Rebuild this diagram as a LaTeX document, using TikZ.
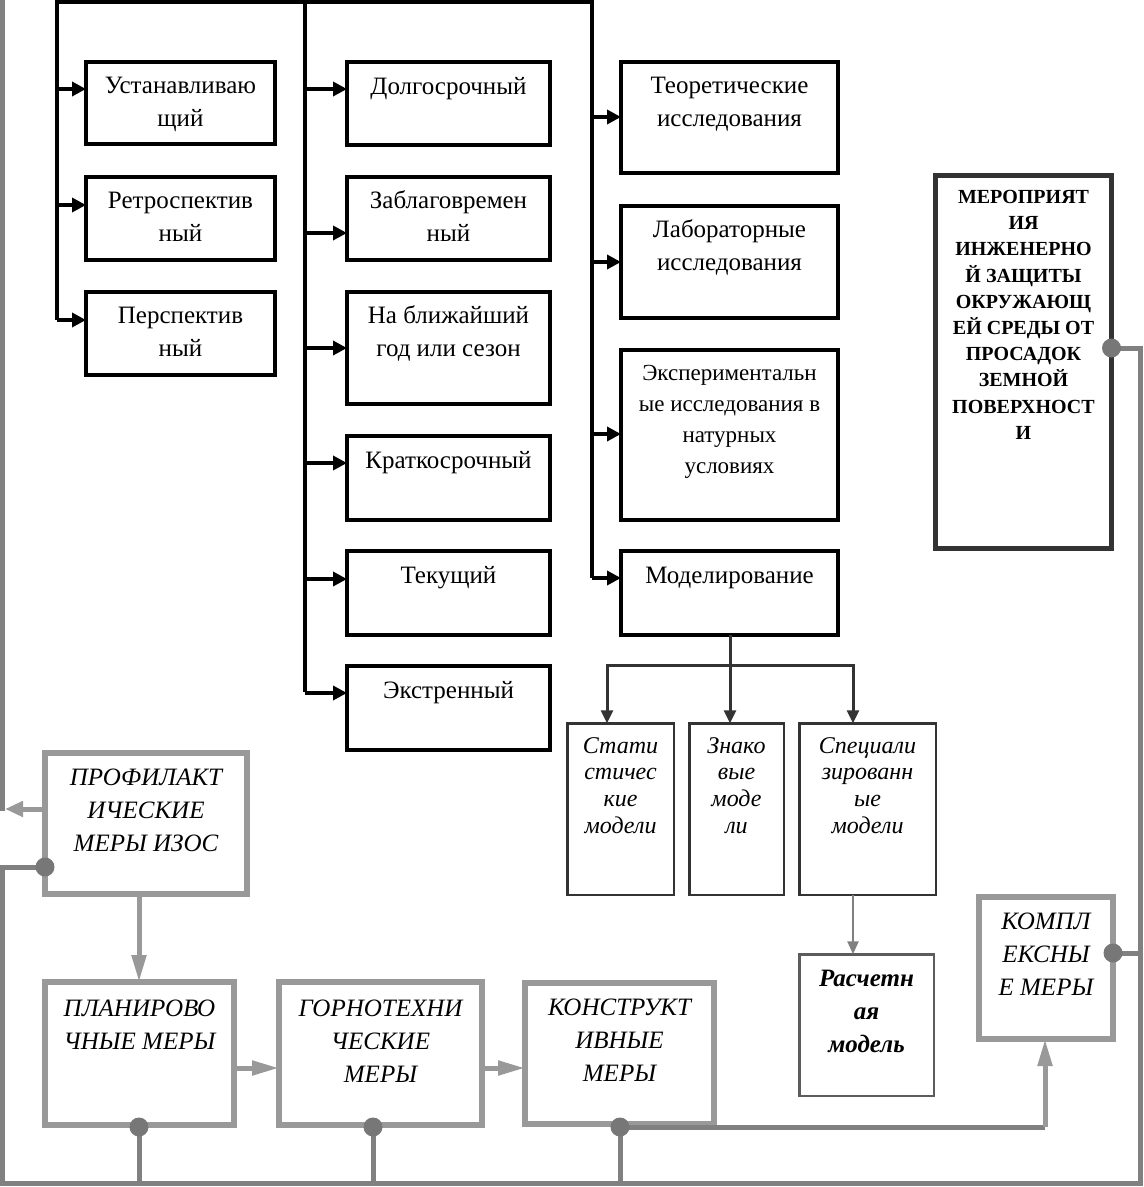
\documentclass[tikz,border=0pt]{standalone}
\usepackage{fontspec}
\setmainfont{Liberation Serif}
\usetikzlibrary{arrows.meta}
\definecolor{gbox}{HTML}{999999}
\definecolor{gline}{HTML}{808080}
\definecolor{gdot}{HTML}{777777}
\definecolor{dk}{HTML}{333333}
\newcommand{\bx}[4]{\parbox[c][#2pt][t]{#1pt}{\centering\rule{0pt}{#3pt}#4\par}}
\tikzset{
  bbox/.style={draw=black, line width=4pt, inner sep=0pt, outer sep=0pt, font=\fontsize{25}{33}\selectfont},
  sbox/.style={draw=black, line width=4pt, inner sep=0pt, outer sep=0pt, font=\fontsize{23}{31}\selectfont},
  mbox/.style={draw=dk, line width=5pt, inner sep=0pt, outer sep=0pt, font=\fontsize{20}{26.2}\selectfont\bfseries},
  modbox/.style={draw=dk, line width=2.5pt, inner sep=0pt, outer sep=0pt, font=\fontsize{24}{26.7}\selectfont\itshape},
  calcbox/.style={draw=dk!80, line width=2.5pt, inner sep=0pt, outer sep=0pt, font=\fontsize{25}{33}\selectfont\bfseries\itshape},
  gbx/.style={draw=gbox, line width=6pt, inner sep=0pt, outer sep=0pt, font=\fontsize{25}{33}\selectfont\itshape},
  bline/.style={draw=black, line width=4pt},
  barrow/.style={draw=black, line width=4pt, -{Triangle[length=14pt,width=14pt]}},
  mline/.style={draw=dk, line width=3pt},
  marrow/.style={draw=dk, line width=3pt, -{Triangle[length=13pt,width=12pt]}},
  tarrow/.style={draw=gline, line width=2.5pt, -{Triangle[length=13pt,width=11pt]}},
  gl/.style={draw=gline, line width=5pt},
  garrow/.style={draw=gbox, line width=5pt, -{Triangle[length=27pt,width=14pt]}},
  garrowshort/.style={draw=gbox, line width=5pt, -{Triangle[length=18pt,width=15pt]}},
  gdotst/.style={circle, fill=gdot, inner sep=0pt, minimum size=19pt}
}
\begin{document}
\begin{tikzpicture}[x=1pt,y=-1pt]
\useasboundingbox (0,0) rectangle (1144,1187);

% ---------- black boxes ----------
\node[bbox] (u1) at (180.5,103)   {\bx{189}{82}{31}{Устанавливаю\\щий}};
\node[bbox] (u2) at (180.5,218.5) {\bx{189}{83}{31}{Ретроспектив\\ный}};
\node[bbox] (u3) at (180.5,333.5) {\bx{189}{83}{31}{Перспектив\\ный}};

\node[bbox] (m1) at (448.5,103.5) {\bx{203}{83}{32}{Долгосрочный}};
\node[bbox] (m2) at (448.5,218.5) {\bx{203}{83}{31}{Заблаговремен\\ный}};
\node[bbox] (m3) at (448.5,348)   {\bx{203}{112}{31}{На ближайший\\год или сезон}};
\node[bbox] (m4) at (448.5,478)   {\bx{203}{84}{32}{Краткосрочный}};
\node[bbox] (m5) at (448.5,593)   {\bx{203}{84}{32}{Текущий}};
\node[bbox] (m6) at (448.5,708)   {\bx{203}{84}{32}{Экстренный}};

\node[bbox] (r1) at (729.5,117.5) {\bx{217}{111}{31}{Теоретические\\исследования}};
\node[bbox] (r2) at (729.5,262)   {\bx{217}{112}{31}{Лабораторные\\исследования}};
\node[sbox] (r3) at (729.5,435)   {\bx{217}{170}{30}{Экспериментальн\\ые исследования в\\натурных\\условиях}};
\node[bbox] (r4) at (729.5,593)   {\bx{217}{84}{32}{Моделирование}};

\node[mbox] (mer) at (1023.5,362) {\bx{176}{373}{28}{МЕРОПРИЯТ\\ИЯ\\ИНЖЕНЕРНО\\Й ЗАЩИТЫ\\ОКРУЖАЮЩ\\ЕЙ СРЕДЫ ОТ\\ПРОСАДОК\\ЗЕМНОЙ\\ПОВЕРХНОСТ\\И}};

% ---------- model boxes ----------
\node[modbox] (s1) at (620.5,809) {\bx{106.5}{171.5}{30}{Стати\\стичес\\кие\\модели}};
\node[modbox] (s2) at (736.5,809) {\bx{94.5}{171.5}{30}{Знако\\вые\\моде\\ли}};
\node[modbox] (s3) at (867.5,809) {\bx{136.5}{171.5}{30}{Специали\\зированн\\ые\\модели}};
\node[calcbox] (calc) at (866.5,1025) {\bx{134.5}{141.5}{32}{Расчетн\\ая\\модель}};

% ---------- gray boxes ----------
\node[gbx] (p0) at (146,823.5)   {\bx{202}{141}{32}{ПРОФИЛАКТ\\ИЧЕСКИЕ\\МЕРЫ ИЗОС}};
\node[gbx] (p1) at (139.5,1053.5){\bx{189}{143}{34}{ПЛАНИРОВО\\ЧНЫЕ МЕРЫ}};
\node[gbx] (p2) at (380.5,1053.5){\bx{203}{143}{34}{ГОРНОТЕХНИ\\ЧЕСКИЕ\\МЕРЫ}};
\node[gbx] (p3) at (619.5,1053.5){\bx{189}{141}{32}{КОНСТРУКТ\\ИВНЫЕ\\МЕРЫ}};
\node[gbx] (p4) at (1046,968)    {\bx{134}{142}{32}{КОМПЛ\\ЕКСНЫ\\Е МЕРЫ}};

% ---------- black tree ----------
\coordinate (bL) at (57,2);
\coordinate (bM) at (305,2);
\coordinate (bR) at (592,2);
\draw[bline, line join=miter] (57,320) -- (bL) -- (bR) -- (592,578);
\draw[bline] (bM) -- (305,692);

\foreach \n/\y in {u1/89, u2/205, u3/320}
  \draw[barrow] (57,\y) -- (\n.west |- 0,\y);
\foreach \n/\y in {m1/89, m2/233, m3/348, m4/463, m5/579, m6/693}
  \draw[barrow] (305,\y) -- (\n.west |- 0,\y);
\foreach \n/\y in {r1/117, r2/262, r3/434, r4/578}
  \draw[barrow] (592,\y) -- (\n.west |- 0,\y);

% ---------- models ----------
\coordinate (mb) at (730,665);
\coordinate (ma) at (607,665);
\coordinate (mc) at (853,665);
\draw[mline] (r4.south -| mb) -- (mb);
\draw[mline, line cap=rect] (ma) -- (mc);
\draw[marrow] (ma) -- (ma |- s1.north);
\draw[marrow] (mb) -- (mb |- s2.north);
\draw[marrow] (mc) -- (mc |- s3.north);
\draw[tarrow] (mc |- s3.south) -- (mc |- calc.north);

% ---------- gray network ----------
\coordinate (tl) at (2.5,0);
\coordinate (dP) at (45,867);
\coordinate (d1) at (139,1127);
\coordinate (d2) at (373,1127);
\coordinate (d3) at (620,1127);
\coordinate (dK) at (1113,953);
\coordinate (dM) at (1111.5,348);
\coordinate (up) at (1045,1127);

\draw[gl] (tl) -- (2.5,811);
\draw[garrowshort] (p0.west |- 0,809) -- (5,809);
\draw[gl, line join=miter] (dP) -- (2.5,867) -- (2.5,1183) -- (1140,1183) -- (1140,348) -- (dM);
\draw[gl] (1140,953) -- (dK);
\draw[gl] (d1) -- (139,1183);
\draw[gl] (d2) -- (373,1183);
\draw[gl] (d3) -- (620,1183);
\draw[gl] (d3) -- (up);
\draw[garrow] (up) -- (up |- p4.south);

\draw[garrow] (139,0 |- p0.south) -- (139,0 |- p1.north);
\draw[garrow] (p1.east |- 0,1068) -- (p2.west |- 0,1068);
\draw[garrow] (p2.east |- 0,1068) -- (p3.west |- 0,1068);

\foreach \c in {dP,d1,d2,d3,dK,dM}
  \node[gdotst] at (\c) {};
\end{tikzpicture}
\end{document}
